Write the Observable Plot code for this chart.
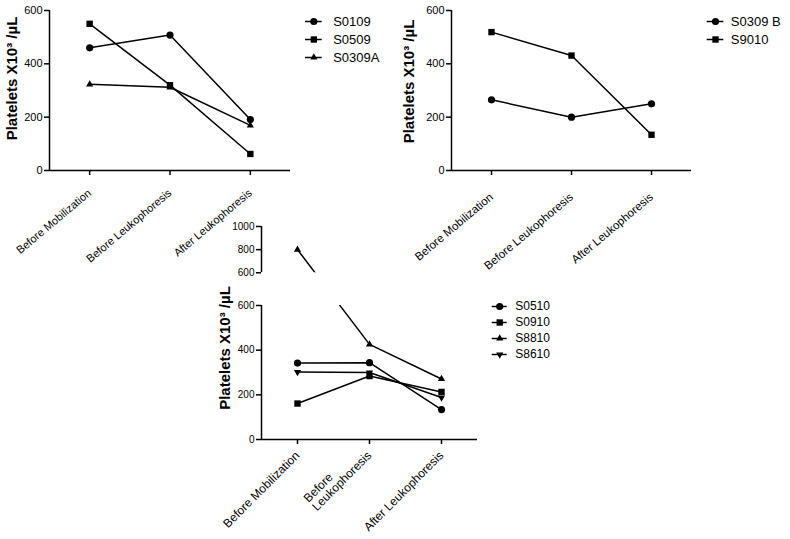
<!DOCTYPE html>
<html>
<head>
<meta charset="utf-8">
<script src="https://cdn.jsdelivr.net/npm/d3@7"></script>
<script src="https://cdn.jsdelivr.net/npm/@observablehq/plot@0.6"></script>
<style>
  html, body { margin: 0; padding: 0; background: #fff; }
  #chart { position: relative; width: 790px; height: 539px; background: #fff; overflow: hidden; }
  #chart > div { position: absolute; }
</style>
</head>
<body>
<div id="chart"></div>
<script>
// ---------- data ----------
const CATEGORIES = ["Before Mobilization", "Before Leukophoresis", "After Leukophoresis"];
const CATEGORIES_BOTTOM = ["Before Mobilization", "Before\nLeukophoresis", "After Leukophoresis"];

// panel A (top left)
const A_SERIES = ["S0109", "S0509", "S0309A"];
const S0109 = [460, 508, 191];
const S0509 = [550, 320, 62];
const S0309A = [323, 312, 169];

// panel B (top right)
const B_SERIES = ["S0309 B", "S9010"];
const S0309B = [265, 200, 250];
const S9010 = [519, 431, 134];

// panel C (bottom, broken y axis)
const C_SERIES = ["S0510", "S0910", "S8810", "S8610"];
const S0510 = [342, 344, 134];
const S0910 = [161, 284, 213];
const S8810 = [800, 426, 271];
const S8610 = [302, 300, 188];

const Y_TICKS = [0, 200, 400, 600];
const Y_TICKS_UPPER = [600, 800, 1000];
const BREAK = 600;
const Y_MAX_UPPER = 1000;
const Y_TITLE = "Platelets X10³ /µL";

// ---------- helpers ----------
const FONT = "'Liberation Sans', Arial, Helvetica, sans-serif";
const sqrt3 = Math.sqrt(3);
function triangle(scale, down) {
  return {
    draw(context, size) {
      const y = -Math.sqrt((size * scale) / (sqrt3 * 3));
      const s = down ? -1 : 1;
      context.moveTo(0, s * y * 2);
      context.lineTo(-sqrt3 * y, -s * y);
      context.lineTo(sqrt3 * y, -s * y);
      context.closePath();
    }
  };
}
const SYM = {
  circle: d3.symbolCircle,
  square: d3.symbolSquare,
  up: triangle(0.55, false),
  down: triangle(0.55, true)
};
const A_SYMBOLS = [SYM.circle, SYM.square, SYM.up];
const B_SYMBOLS = [SYM.circle, SYM.square];
const C_SYMBOLS = [SYM.circle, SYM.square, SYM.up, SYM.down];

function rowsOf(names, arrays) {
  const rows = [];
  names.forEach((name, i) => arrays[i].forEach((v, j) => rows.push({series: name, cat: j + 1, value: v})));
  return rows;
}

function place(node, left, top) {
  const wrap = document.createElement("div");
  wrap.style.left = left + "px";
  wrap.style.top = top + "px";
  wrap.appendChild(node);
  document.getElementById("chart").appendChild(wrap);
}

function textWidth(str, font) {
  const ctx = document.createElement("canvas").getContext("2d");
  ctx.font = font;
  return ctx.measureText(str).width;
}

const baseStyle = {background: "transparent", fontFamily: FONT, color: "#000", overflow: "visible"};

function topPanel({names, arrays, symbols, marginLeft, marginRight, titleDx, titleDy, tickPadding, labelSize}) {
  const rows = rowsOf(names, arrays);
  return Plot.plot({
    width: 300, height: 275,
    marginLeft, marginRight, marginTop: 10, marginBottom: 105,
    style: {...baseStyle, fontSize: "11px"},
    x: {domain: [0.5, 3.5], axis: null},
    y: {domain: [0, 600], axis: null},
    symbol: {domain: names, range: symbols},
    marks: [
      Plot.ruleY([0], {stroke: "#000", strokeWidth: 1.5}),
      Plot.ruleX([0.5], {stroke: "#000", strokeWidth: 1.5}),
      Plot.axisY({ticks: Y_TICKS, tickSize: 5, tickPadding: 2, strokeWidth: 1.5, label: null, fontSize: 11}),
      Plot.axisX({ticks: [1, 2, 3], tickFormat: i => CATEGORIES[i - 1], tickSize: 5, tickPadding,
                  tickRotate: -40, strokeWidth: 1.5, label: null, fontSize: labelSize}),
      Plot.text([Y_TITLE], {frameAnchor: "left", textAnchor: "middle", rotate: -90, dx: titleDx, dy: titleDy,
                            fontWeight: "bold", fontSize: 15, fill: "#000"}),
      Plot.line(rows, {x: "cat", y: "value", z: "series", stroke: "#000", strokeWidth: 1.5}),
      Plot.dot(rows, {x: "cat", y: "value", symbol: "series", fill: "#000", r: 3.6})
    ]
  });
}

function legendPlot({names, symbols, width, height, rowTop, rowBottom, x0, x1, gap, fontSize}) {
  return Plot.plot({
    width, height, margin: 0,
    style: {...baseStyle, fontSize: fontSize + "px"},
    x: {domain: [0, 1], range: [x0, x1], axis: null},
    y: {type: "point", domain: names, range: [rowTop, rowBottom], padding: 0, axis: null},
    symbol: {domain: names, range: symbols},
    marks: [
      Plot.ruleY(names, {y: d => d, x1: 0, x2: 1, stroke: "#000", strokeWidth: 1.5}),
      Plot.dot(names, {x: 0.5, y: d => d, symbol: d => d, fill: "#000", r: 3.6}),
      Plot.text(names, {x: 1, y: d => d, text: d => d, dx: gap, textAnchor: "start", fontSize, fill: "#000"})
    ]
  });
}

// ---------- panel A ----------
place(topPanel({names: A_SERIES, arrays: [S0109, S0509, S0309A], symbols: A_SYMBOLS,
                marginLeft: 49, marginRight: 10, titleDx: -37, titleDy: -12, tickPadding: 16, labelSize: 11}), 0, 0);
place(legendPlot({names: A_SERIES, symbols: A_SYMBOLS, width: 90, height: 60,
                  rowTop: 10.7, rowBottom: 47.3, x0: 5, x1: 21.7, gap: 11, fontSize: 13}), 300, 10);

// ---------- panel B ----------
place(topPanel({names: B_SERIES, arrays: [S0309B, S9010], symbols: B_SYMBOLS,
                marginLeft: 51, marginRight: 9, titleDx: -42, titleDy: -9, tickPadding: 20, labelSize: 11.5}), 400, 0);
place(legendPlot({names: B_SERIES, symbols: B_SYMBOLS, width: 90, height: 40,
                  rowTop: 10.7, rowBottom: 29, x0: 6.7, x1: 23.3, gap: 7, fontSize: 13}), 700, 10);

// ---------- panel C (broken axis) ----------
{
  // broken axis: values above the break are compressed and shifted by the gap
  const GAP_UNITS = 146.5;     // size of the visual gap, in lower-segment units
  const UPPER_RATIO = 0.518;   // upper segment scale relative to the lower one
  const warp = v => (v <= BREAK ? v : BREAK + GAP_UNITS + (v - BREAK) * UPPER_RATIO);
  const UPPER_START = BREAK + GAP_UNITS; // warped position of the upper "600"

  const rows = rowsOf(C_SERIES, [S0510, S0910, S8810, S8610]);
  const W = 290, H = 324, mL = 61, mR = 13, mT = 11, mB = 100;
  const LABEL_SIZE = 12, TICK_SIZE = 5, TICK_PAD = 9;
  const yTicksLower = Y_TICKS.map(warp);
  const yTicksUpper = Y_TICKS_UPPER.map((v, i) => (i === 0 ? UPPER_START : warp(v)));
  const upperLabel = new Map(yTicksUpper.map((w, i) => [w, String(Y_TICKS_UPPER[i])]));

  // the two-line category label is left-aligned, its last line sits where a single-line label would
  const [line1, line2] = CATEGORIES_BOTTOM[1].split("\n");
  const w2 = textWidth(line2, `${LABEL_SIZE}px ${FONT}`);
  const c = Math.SQRT1_2;
  const sx = -w2 * c, sy = TICK_SIZE + TICK_PAD + w2 * c;   // start of line 2, relative to the tick foot
  const qx = sx - 0.5 * LABEL_SIZE * c, qy = sy - 0.5 * LABEL_SIZE * c;

  const plot = Plot.plot({
    width: W, height: H, marginLeft: mL, marginRight: mR, marginTop: mT, marginBottom: mB,
    style: {...baseStyle, fontSize: "10px"},
    x: {domain: [0.5, 3.5], axis: null},
    y: {domain: [0, warp(Y_MAX_UPPER)], axis: null},
    symbol: {domain: C_SERIES, range: C_SYMBOLS},
    marks: [
      Plot.ruleY([0], {stroke: "#000", strokeWidth: 1.5}),
      Plot.ruleX([0.5], {y1: 0, y2: BREAK, stroke: "#000", strokeWidth: 1.5}),
      Plot.ruleX([0.5], {y1: UPPER_START, y2: warp(Y_MAX_UPPER), stroke: "#000", strokeWidth: 1.5}),
      Plot.axisY({ticks: yTicksLower, tickFormat: d => String(d), tickSize: 5, tickPadding: 2,
                  strokeWidth: 1.5, label: null, fontSize: 10}),
      Plot.axisY({ticks: yTicksUpper, tickFormat: d => upperLabel.get(d), tickSize: 5, tickPadding: 2,
                  strokeWidth: 1.5, label: null, fontSize: 10}),
      Plot.axisX({ticks: [1, 2, 3], tickFormat: i => (i === 2 ? "" : CATEGORIES_BOTTOM[i - 1]),
                  tickSize: TICK_SIZE, tickPadding: TICK_PAD,
                  tickRotate: -45, strokeWidth: 1.5, label: null, fontSize: LABEL_SIZE}),
      Plot.text([2], {x: d => d, frameAnchor: "bottom", text: () => line1 + "\n" + line2,
                      textAnchor: "start", lineAnchor: "middle", rotate: -45,
                      dx: qx, dy: qy, fontSize: LABEL_SIZE, fill: "#000"}),
      Plot.text([Y_TITLE], {frameAnchor: "left", textAnchor: "middle", rotate: -90, dx: -36, dy: 15,
                            fontWeight: "bold", fontSize: 15, fill: "#000"}),
      Plot.line(rows, {x: "cat", y: d => warp(d.value), z: "series", stroke: "#000", strokeWidth: 1.5}),
      // the axis break hides the part of the lines that falls inside it
      Plot.rect([BREAK], {x1: 0.5, x2: 3.5, y1: BREAK, y2: UPPER_START, fill: "#fff"}),
      Plot.dot(rows, {x: "cat", y: d => warp(d.value), symbol: "series", fill: "#000", r: 3.6})
    ]
  });
  place(plot, 200, 215);
  place(legendPlot({names: C_SERIES, symbols: C_SYMBOLS, width: 100, height: 70,
                    rowTop: 10.7, rowBottom: 59.3, x0: 6.7, x1: 21.7, gap: 8, fontSize: 12}), 485, 295);
}
</script>
</body>
</html>
